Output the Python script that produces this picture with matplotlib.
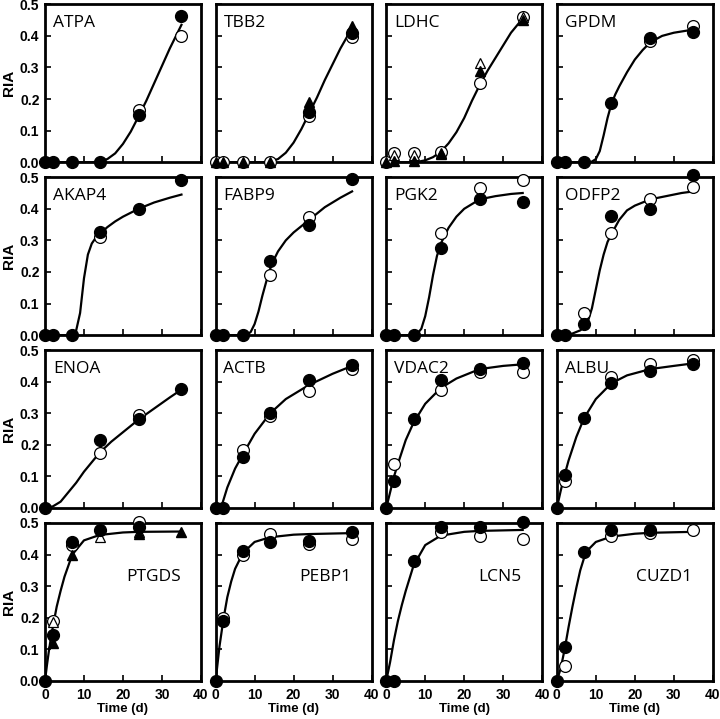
import numpy as np
import matplotlib
matplotlib.use("Agg")
import matplotlib.pyplot as plt

nan = np.nan
days = [0, 2, 7, 14, 24, 35]

# ---- row 1 ----
atpa_fill = [0, 0, 0, 0, 0.148, 0.462]
atpa_open = [nan, nan, nan, nan, 0.165, 0.40]
atpa_fit_t = [0, 12, 14, 16, 18, 20, 22, 24, 26, 28, 30, 32, 35]
atpa_fit_y = [0, 0, 0.002, 0.01, 0.028, 0.058, 0.097, 0.145, 0.195, 0.25, 0.305, 0.36, 0.435]

tbb2_fill = [nan, nan, nan, nan, 0.16, 0.41]
tbb2_open = [0, 0, 0, 0, 0.145, 0.395]
tbb2_tri = [0, 0, 0, 0, 0.19, 0.43]
tbb2_fit_t = [0, 12, 14, 16, 18, 20, 22, 24, 26, 28, 30, 32, 35]
tbb2_fit_y = [0, 0, 0.002, 0.01, 0.03, 0.062, 0.105, 0.155, 0.205, 0.26, 0.31, 0.36, 0.425]

ldhc_open = [0, 0.028, 0.028, 0.032, 0.25, 0.46]
ldhc_tri = [0, 0.005, 0.005, 0.025, 0.29, 0.45]
ldhc_otri = [nan, 0.022, 0.022, 0.03, 0.315, 0.46]
ldhc_fit_t = [0, 7, 8, 10, 12, 14, 16, 18, 20, 22, 24, 26, 28, 30, 32, 35]
ldhc_fit_y = [0, 0, 0.001, 0.006, 0.016, 0.033, 0.06, 0.095, 0.14, 0.195, 0.245, 0.29, 0.33, 0.37, 0.41, 0.455]

gpdm_fill = [0, 0, 0, 0.186, 0.393, 0.412]
gpdm_open = [nan, nan, nan, nan, 0.385, 0.43]
gpdm_fit_t = [0, 8, 9, 10, 11, 12, 13, 14, 15, 16, 18, 20, 22, 24, 27, 30, 35]
gpdm_fit_y = [0, 0, 0.002, 0.01, 0.035, 0.085, 0.14, 0.185, 0.215, 0.24, 0.285, 0.325, 0.355, 0.38, 0.40, 0.41, 0.42]

# ---- row 2 ----
akap4_fill = [0, 0, 0, 0.328, 0.398, 0.49]
akap4_open = [nan, nan, nan, 0.31, nan, nan]
akap4_fit_t = [0, 7, 8, 9, 10, 11, 12, 13, 14, 16, 18, 20, 24, 28, 32, 35]
akap4_fit_y = [0, 0, 0.015, 0.07, 0.18, 0.255, 0.29, 0.308, 0.32, 0.342, 0.36, 0.375, 0.40, 0.42, 0.435, 0.445]

fabp9_fill = [0, 0, 0, 0.236, 0.35, 0.494]
fabp9_open = [nan, nan, nan, 0.19, 0.373, nan]
fabp9_fit_t = [0, 8, 9, 10, 11, 12, 13, 14, 15, 16, 18, 20, 24, 28, 32, 35]
fabp9_fit_y = [0, 0, 0.01, 0.035, 0.075, 0.125, 0.17, 0.21, 0.24, 0.265, 0.3, 0.325, 0.365, 0.405, 0.435, 0.455]

pgk2_fill = [0, 0, 0, 0.277, 0.43, 0.42]
pgk2_open = [nan, nan, nan, 0.322, 0.465, 0.49]
pgk2_fit_t = [0, 7, 8, 9, 10, 11, 12, 13, 14, 16, 18, 20, 24, 28, 32, 35]
pgk2_fit_y = [0, 0, 0.005, 0.02, 0.06, 0.12, 0.19, 0.25, 0.29, 0.34, 0.375, 0.40, 0.43, 0.44, 0.447, 0.45]

odfp2_fill = [0, 0, 0.035, 0.376, 0.398, 0.506]
odfp2_open = [nan, nan, 0.07, 0.322, 0.43, 0.468]
odfp2_fit_t = [0, 2, 4, 6, 7, 8, 9, 10, 11, 12, 13, 14, 16, 18, 20, 24, 28, 32, 35]
odfp2_fit_y = [0, 0, 0.005, 0.015, 0.025, 0.045, 0.085, 0.145, 0.205, 0.255, 0.295, 0.32, 0.365, 0.395, 0.41, 0.43, 0.44, 0.45, 0.455]

# ---- row 3 ----
enoa_fill = [0, nan, nan, 0.214, 0.283, 0.377]
enoa_open = [nan, nan, nan, 0.173, 0.296, nan]
enoa_fit_t = [0, 2, 4, 6, 8, 10, 12, 14, 17, 20, 24, 28, 32, 35]
enoa_fit_y = [0, 0.005, 0.02, 0.05, 0.08, 0.115, 0.145, 0.175, 0.21, 0.24, 0.28, 0.315, 0.35, 0.375]

actb_fill = [0, 0, 0.163, 0.30, 0.405, 0.452]
actb_open = [nan, nan, 0.185, 0.29, 0.37, 0.44]
actb_fit_t = [0, 1.5, 2, 3, 5, 7, 10, 14, 18, 24, 30, 35]
actb_fit_y = [0, 0.005, 0.025, 0.065, 0.125, 0.17, 0.235, 0.30, 0.345, 0.39, 0.425, 0.45]

vdac2_fill = [0, 0.085, 0.283, 0.405, 0.44, 0.46]
vdac2_open = [nan, 0.138, nan, 0.374, 0.43, 0.43]
vdac2_fit_t = [0, 1, 2, 3, 5, 7, 10, 14, 18, 24, 30, 35]
vdac2_fit_y = [0, 0.05, 0.1, 0.14, 0.215, 0.27, 0.33, 0.38, 0.41, 0.44, 0.45, 0.455]

albu_fill = [0, 0.105, 0.285, 0.395, 0.435, 0.455]
albu_open = [nan, 0.085, nan, 0.415, 0.455, 0.47]
albu_fit_t = [0, 1, 2, 3, 5, 7, 10, 14, 18, 24, 30, 35]
albu_fit_y = [0, 0.055, 0.105, 0.15, 0.225, 0.285, 0.345, 0.395, 0.42, 0.44, 0.45, 0.458]

# ---- row 4 ----
ptgds_fill = [0, 0.146, 0.44, 0.478, 0.487, nan]
ptgds_open = [nan, 0.19, 0.43, nan, 0.503, nan]
ptgds_tri = [nan, 0.12, 0.40, nan, 0.465, 0.47]
ptgds_otri = [nan, 0.185, nan, 0.455, 0.47, nan]
ptgds_fit_t = [0, 0.5, 1, 1.5, 2, 3, 4, 5, 7, 10, 14, 20, 24, 35]
ptgds_fit_y = [0, 0.05, 0.095, 0.135, 0.17, 0.235, 0.285, 0.33, 0.40, 0.445, 0.462, 0.47, 0.472, 0.473]

pebp1_fill = [0, 0.19, 0.41, 0.44, 0.443, 0.47]
pebp1_open = [nan, 0.20, 0.40, 0.465, 0.433, 0.45]
pebp1_fit_t = [0, 1, 2, 3, 4, 5, 7, 10, 14, 20, 24, 35]
pebp1_fit_y = [0, 0.11, 0.195, 0.265, 0.315, 0.355, 0.405, 0.44, 0.455, 0.463, 0.465, 0.468]

lcn5_fill = [0, 0, 0.38, 0.487, 0.487, 0.503]
lcn5_open = [nan, nan, nan, 0.47, 0.46, 0.45]
lcn5_fit_t = [0, 1, 2, 3, 4, 5, 7, 10, 14, 20, 24, 35]
lcn5_fit_y = [0, 0.06, 0.13, 0.19, 0.24, 0.285, 0.365, 0.43, 0.46, 0.472, 0.475, 0.478]

cuzd1_fill = [0, 0.108, 0.408, 0.478, 0.478, nan]
cuzd1_open = [nan, 0.048, nan, 0.458, 0.468, 0.478]
cuzd1_fit_t = [0, 1, 2, 3, 4, 5, 6, 7, 8, 10, 14, 20, 24, 35]
cuzd1_fit_y = [0, 0.04, 0.1, 0.17, 0.235, 0.295, 0.35, 0.39, 0.415, 0.44, 0.457, 0.466, 0.469, 0.472]

empty = [nan] * 6
panels = [
    ("ATPA", atpa_fill, atpa_open, empty, empty, atpa_fit_t, atpa_fit_y),
    ("TBB2", tbb2_fill, tbb2_open, tbb2_tri, empty, tbb2_fit_t, tbb2_fit_y),
    ("LDHC", empty, ldhc_open, ldhc_tri, ldhc_otri, ldhc_fit_t, ldhc_fit_y),
    ("GPDM", gpdm_fill, gpdm_open, empty, empty, gpdm_fit_t, gpdm_fit_y),
    ("AKAP4", akap4_fill, akap4_open, empty, empty, akap4_fit_t, akap4_fit_y),
    ("FABP9", fabp9_fill, fabp9_open, empty, empty, fabp9_fit_t, fabp9_fit_y),
    ("PGK2", pgk2_fill, pgk2_open, empty, empty, pgk2_fit_t, pgk2_fit_y),
    ("ODFP2", odfp2_fill, odfp2_open, empty, empty, odfp2_fit_t, odfp2_fit_y),
    ("ENOA", enoa_fill, enoa_open, empty, empty, enoa_fit_t, enoa_fit_y),
    ("ACTB", actb_fill, actb_open, empty, empty, actb_fit_t, actb_fit_y),
    ("VDAC2", vdac2_fill, vdac2_open, empty, empty, vdac2_fit_t, vdac2_fit_y),
    ("ALBU", albu_fill, albu_open, empty, empty, albu_fit_t, albu_fit_y),
    ("PTGDS", ptgds_fill, ptgds_open, ptgds_tri, ptgds_otri, ptgds_fit_t, ptgds_fit_y),
    ("PEBP1", pebp1_fill, pebp1_open, empty, empty, pebp1_fit_t, pebp1_fit_y),
    ("LCN5", lcn5_fill, lcn5_open, empty, empty, lcn5_fit_t, lcn5_fit_y),
    ("CUZD1", cuzd1_fill, cuzd1_open, empty, empty, cuzd1_fit_t, cuzd1_fit_y),
]

plt.rcParams['font.family'] = ['Liberation Sans', 'DejaVu Sans']

fig, axes = plt.subplots(4, 4, figsize=(7.2, 7.19), dpi=100, sharex=True, sharey=True)
fig.subplots_adjust(left=0.0625, right=0.99, top=0.994, bottom=0.053,
                    wspace=0.094, hspace=0.095)

for i, (name, fill, opn, tri, otri, fit_t, fit_y) in enumerate(panels):
    ax = axes.flat[i]
    row = i // 4
    ax.plot(fit_t, fit_y, color='black', lw=1.6, zorder=2)
    # open markers first, filled ones on top
    ax.plot(days, opn, 'o', ms=8.5, mfc='white', mec='black', mew=0.9, ls='none', clip_on=False, zorder=3)
    ax.plot(days, otri, '^', ms=7.5, mfc='white', mec='black', mew=0.9, ls='none', clip_on=False, zorder=4)
    ax.plot(days, fill, 'o', ms=8.5, color='black', ls='none', clip_on=False, zorder=5)
    ax.plot(days, tri, '^', ms=7.5, color='black', ls='none', clip_on=False, zorder=6)

    ax.set_xlim(0, 40)
    ax.set_ylim(0, 0.5)
    ax.set_xticks([0, 10, 20, 30, 40])
    ax.set_yticks([0, 0.1, 0.2, 0.3, 0.4, 0.5])
    ax.set_yticklabels(['0.0', '0.1', '0.2', '0.3', '0.4', '0.5'])
    ax.tick_params(direction='in', length=4, width=1.2, labelsize=10, pad=4)
    for lab in ax.get_xticklabels() + ax.get_yticklabels():
        lab.set_fontweight('bold')
    for sp in ax.spines.values():
        sp.set_linewidth(2.0)

    if row < 3:
        ax.text(0.05, 0.855, name, transform=ax.transAxes, fontsize=12.5,
                family='Open Sans', ha='left', va='baseline')
    else:
        ax.text(0.87, 0.63, name, transform=ax.transAxes, fontsize=12.5,
                family='Open Sans', ha='right', va='baseline')

    if i % 4 == 0:
        ax.set_ylabel('RIA', fontsize=11, fontweight='bold', labelpad=3)
    if row == 3:
        ax.set_xlabel('Time (d)', fontsize=9.5, fontweight='bold', labelpad=1)
        ax.tick_params(axis='x', pad=5)

plt.savefig('out.png', dpi=100)
